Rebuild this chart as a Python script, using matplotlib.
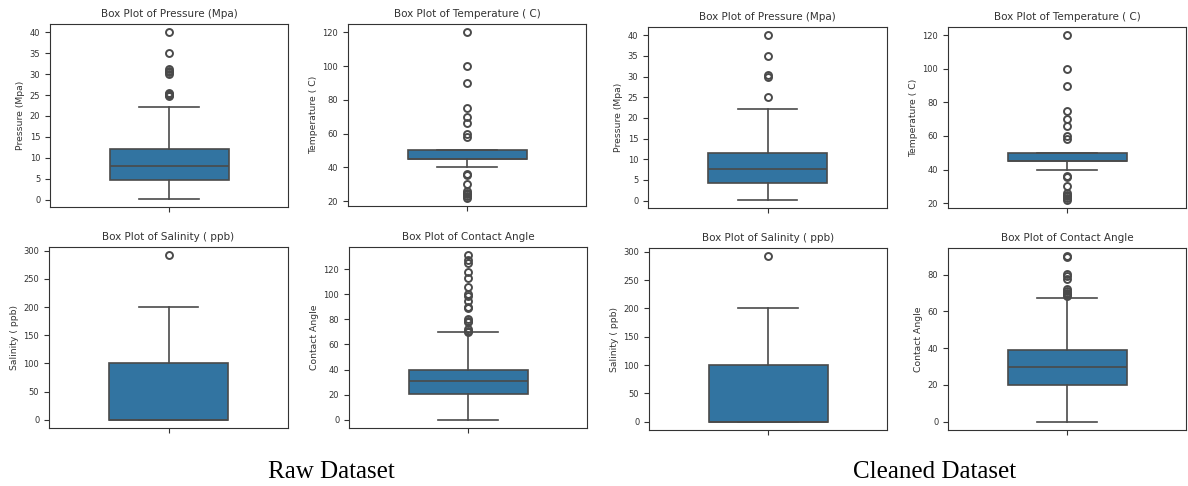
import matplotlib.pyplot as plt

# Box plot summaries (raw dataset, then cleaned dataset)
titles = ["Box Plot of Pressure (Mpa)", "Box Plot of Temperature ( C)",
          "Box Plot of Salinity ( ppb)", "Box Plot of Contact Angle"]
ylabels = ["Pressure (Mpa)", "Temperature ( C)", "Salinity ( ppb)", "Contact Angle"]

raw_q1 = [4.7, 45, 0, 20.5]
raw_med = [8.1, 45, 0, 31.1]
raw_q3 = [12.0, 50, 100, 39.4]
raw_whislo = [0.2, 40, 0, 0]
raw_whishi = [22.1, 50, 200, 69.5]
raw_fliers = [
    [24.7, 25.0, 25.3, 25.6, 30.0, 30.4, 30.8, 31.3, 35, 40],
    [22, 23, 24, 25, 26, 30, 35.5, 36, 58, 60, 66, 70, 75, 90, 100, 120],
    [292],
    [70, 71, 72, 78, 79, 80, 89, 90, 94.5, 98.5, 100, 106, 113, 118, 124.5, 127, 131],
]

clean_q1 = [4.3, 45, 0, 20.0]
clean_med = [7.7, 45, 0, 30.0]
clean_q3 = [11.4, 50, 100, 39.0]
clean_whislo = [0.2, 40, 0, 0]
clean_whishi = [22.1, 50, 200, 67.2]
clean_fliers = [
    [25, 29.9, 30.3, 35, 40],
    [22, 23, 24, 25, 26, 30, 35.5, 36, 58, 60, 66, 70, 75, 90, 100, 120],
    [292],
    [68.5, 69.4, 70, 71, 72, 77.6, 79, 80.4, 89.5, 90],
]

box_color = "#3274a1"
line_color = "#4a4a4a"
text_color = "#333333"

W, H = 1188, 486
fig = plt.figure(figsize=(W / 100, H / 100), dpi=100)


def add_ax(left, top, right, bottom):
    return fig.add_axes([left / W, 1 - bottom / H, (right - left) / W, (bottom - top) / H])


# pixel boxes (left, top, right, bottom) for the 8 panels
raw_boxes = [(50, 24, 288, 207), (348, 24, 586, 206), (49, 247, 288, 428), (349, 247, 587, 428)]
clean_boxes = [(648, 27, 887, 208), (948, 27, 1186, 208), (649, 248, 887, 430), (948, 248, 1186, 430)]


def draw_panel(ax, i, q1, med, q3, lo, hi, fl):
    stats = [dict(q1=q1, med=med, q3=q3, whislo=lo, whishi=hi, fliers=fl)]
    ax.bxp(stats, positions=[0], widths=0.5, patch_artist=True,
           boxprops=dict(facecolor=box_color, edgecolor=line_color, linewidth=1.2),
           medianprops=dict(color=line_color, linewidth=1.2),
           whiskerprops=dict(color=line_color, linewidth=1.2),
           capprops=dict(color=line_color, linewidth=1.2),
           flierprops=dict(marker="o", markerfacecolor="none", markeredgecolor=line_color,
                           markersize=5, markeredgewidth=1.4))
    ax.set_xlim(-0.5, 0.5)
    ax.set_xticks([0])
    ax.set_xticklabels([""])
    ax.set_title(titles[i], fontsize=7.5, color=text_color, pad=5)
    ax.set_ylabel(ylabels[i], fontsize=6.7, color=text_color, labelpad=3)
    ax.tick_params(labelsize=6, colors=text_color, length=3.5, width=0.8)
    for s in ax.spines.values():
        s.set_color(text_color)
        s.set_linewidth(0.8)


for i in range(4):
    ax = add_ax(*raw_boxes[i])
    draw_panel(ax, i, raw_q1[i], raw_med[i], raw_q3[i], raw_whislo[i], raw_whishi[i], raw_fliers[i])
    ax = add_ax(*clean_boxes[i])
    draw_panel(ax, i, clean_q1[i], clean_med[i], clean_q3[i], clean_whislo[i], clean_whishi[i], clean_fliers[i])

fig.text(331 / W, 1 - 472 / H, "Raw Dataset", family="Liberation Serif", fontsize=18,
         ha="center", va="center", color="black")
fig.text(935 / W, 1 - 472 / H, "Cleaned Dataset", family="Liberation Serif", fontsize=18,
         ha="center", va="center", color="black")

fig.savefig("out.png", dpi=100)
